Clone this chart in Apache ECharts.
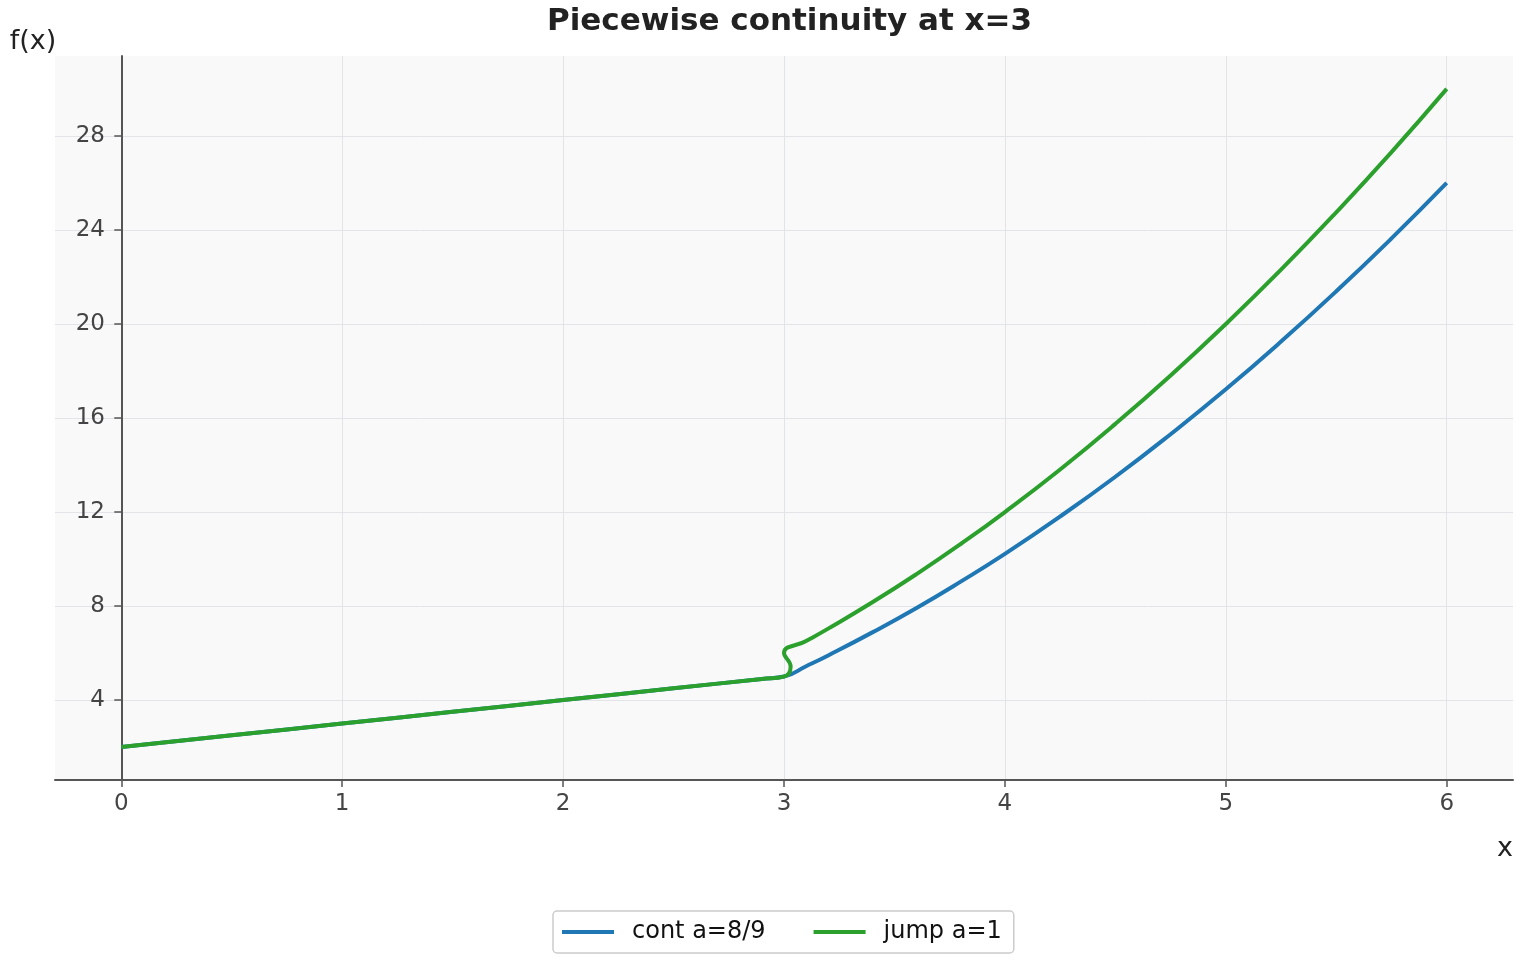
<!DOCTYPE html>
<html>
<head>
<meta charset="utf-8">
<script src="https://cdn.jsdelivr.net/npm/echarts@6/dist/echarts.min.js"></script>
</head>
<body style="margin:0">
<div
    id="ch"
    style="width: 1520px; height: 960px;"
></div>

<script>
// left piece (shared by both curves)
var xLeft = [0, 0.5, 1, 1.5, 2, 2.5, 2.9, 3]
var yLeft = [2, 2.5, 3, 3.5, 4, 4.5, 4.9, 5]
// right piece, cont curve
var xCont = [3, 3.1, 3.2, 3.4, 3.6, 3.8, 4, 4.25, 4.5, 4.75, 5, 5.25, 5.5, 5.75, 6]
var yCont = [5, 5.44, 5.9, 6.88, 7.92, 9.04, 10.22, 11.81, 13.5, 15.31, 17.22, 19.25, 21.39, 23.64, 26]
// right piece, jump curve (starts with the little s-bend drawn at x=3)
var xJump = [3.03, 3, 3.1, 3.2, 3.4, 3.6, 3.8, 4, 4.25, 4.5, 4.75, 5, 5.25, 5.5, 5.75, 6]
var yJump = [5.42, 6, 6.51, 7.04, 8.16, 9.36, 10.64, 12, 13.81, 15.75, 17.81, 20, 22.31, 24.75, 27.31, 30]
var xTicks = [0, 1, 2, 3, 4, 5, 6]
var yTicks = [4, 8, 12, 16, 20, 24, 28]

function pairs(xs, ys) {
    return xs.map(function(x, i) {
        return [x, ys[i]]
    })
}

var axisCol = '#555'
var font = 'DejaVu Sans'

var chartInst = echarts.init(document.getElementById('ch'))
chartInst.setOption({
    animation: false,
    textStyle: { fontFamily: font },
    // title and legend are centred over the plot area, not the page
    title: {
        text: 'Piecewise continuity at x=3',
        left: 542,
        top: 1,
        textStyle: { fontSize: 31, fontWeight: 'bold', color: '#222', fontFamily: font }
    },
    legend: {
        bottom: 7,
        left: 553,
        icon: 'rect',
        itemWidth: 52,
        itemHeight: 4,
        itemGap: 48,
        padding: [9, 12, 9, 9],
        borderColor: '#ccc',
        borderWidth: 1.5,
        borderRadius: 4,
        textStyle: { fontSize: 24, color: '#111', padding: [0, 0, 0, 13] },
        data: ['cont a=8/9', 'jump a=1']
    },
    grid: {
        left: 55,
        right: 7,
        top: 56,
        bottom: 180,
        show: true,
        backgroundColor: '#f9f9fa',
        borderWidth: 0
    },
    xAxis: {
        type: 'value',
        min: -0.3,
        max: 6.3,
        name: 'x',
        nameLocation: 'end',
        nameGap: 0,
        nameTextStyle: { fontSize: 27, color: '#222', align: 'right', verticalAlign: 'top', padding: [55, 0, 0, 0] },
        axisLine: { lineStyle: { color: axisCol, width: 2 } },
        axisTick: { show: true, length: 7, customValues: xTicks, lineStyle: { color: axisCol, width: 1.5 } },
        axisLabel: { customValues: xTicks, fontSize: 23, color: '#444', margin: 13 },
        splitLine: { show: true, lineStyle: { color: '#e2e4e8', width: 1 } }
    },
    yAxis: {
        type: 'value',
        min: 0.6,
        max: 31.4,
        name: 'f(x)',
        nameLocation: 'end',
        nameGap: 1,
        nameTextStyle: { fontSize: 27, color: '#222', align: 'right', padding: [0, 65, 0, 0] },
        axisLine: { show: true, onZero: true, lineStyle: { color: axisCol, width: 2 } },
        axisTick: { show: true, length: 7, customValues: yTicks, lineStyle: { color: axisCol, width: 1.5 } },
        // labels stay at the grid edge, so pull them over to the zero spine
        axisLabel: { customValues: yTicks, fontSize: 23, color: '#444', margin: -50 },
        splitLine: { show: true, lineStyle: { color: '#e2e4e8', width: 1 } }
    },
    series: [{
        name: 'cont a=8/9',
        type: 'line',
        smooth: true,
        showSymbol: false,
        symbol: 'none',
        color: '#1f77b4',
        lineStyle: { width: 4 },
        data: pairs(xLeft, yLeft).concat(pairs(xCont, yCont))
    }, {
        name: 'jump a=1',
        type: 'line',
        smooth: true,
        showSymbol: false,
        symbol: 'none',
        color: '#2ca02c',
        lineStyle: { width: 4 },
        data: pairs(xLeft, yLeft).concat(pairs(xJump, yJump))
    }]
})
</script>
</body>
</html>
